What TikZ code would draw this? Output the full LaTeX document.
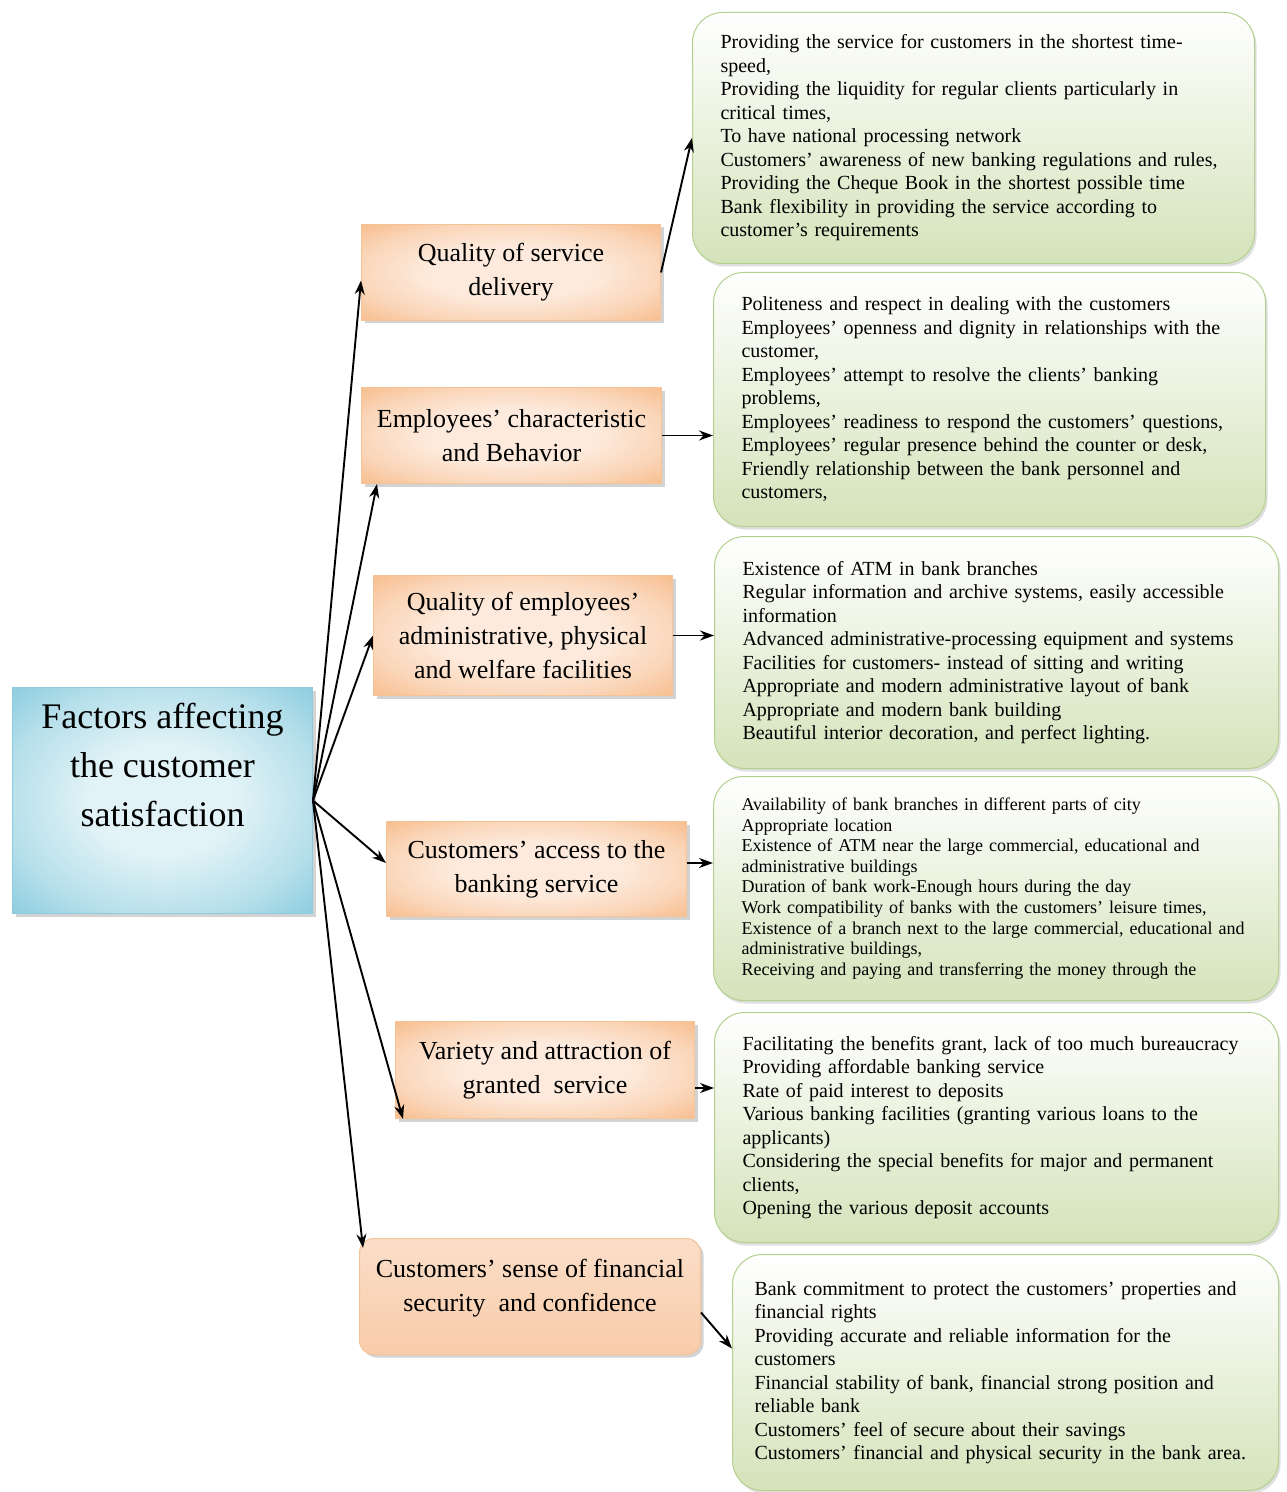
\documentclass[tikz,border=0pt]{standalone}
\usepackage{fontspec}
\setmainfont{Liberation Serif}
\usetikzlibrary{shadows,arrows.meta}

\definecolor{blueedge}{RGB}{138,204,222}
\definecolor{bluelight}{RGB}{226,243,247}
\definecolor{blueline}{RGB}{140,204,222}
\definecolor{orangeedge}{RGB}{247,188,140}
\definecolor{orangelight}{RGB}{253,234,220}
\definecolor{orangeline}{RGB}{245,196,150}
\definecolor{orangetop}{RGB}{251,222,200}
\definecolor{orangebottom}{RGB}{248,204,170}
\definecolor{greenbottom}{RGB}{212,227,186}
\definecolor{greenline}{RGB}{180,208,142}

\pgfdeclareradialshading{orangeglow}{\pgfpoint{0bp}{0bp}}{color(0bp)=(orangelight); color(14bp)=(orangelight); color(26bp)=(orangelight!55!orangeedge); color(36bp)=(orangeedge); color(50bp)=(orangeedge)}
\pgfdeclareradialshading{blueglow}{\pgfpoint{0bp}{0bp}}{color(0bp)=(bluelight); color(12bp)=(bluelight); color(26bp)=(bluelight!50!blueedge); color(36bp)=(blueedge); color(50bp)=(blueedge)}

\begin{document}
\begin{tikzpicture}[>={Stealth[length=7pt,width=5pt]}, line width=0.95pt, x=0.5pt, y=-0.5pt,
  mainbox/.style={draw=blueline, line width=0.5pt, shading=blueglow, inner sep=0pt,
    anchor=north west, font=\fontsize{18}{24.5}\selectfont,
    drop shadow={shadow xshift=1.5pt, shadow yshift=-1.5pt, opacity=0.35}},
  factor/.style={draw=orangeline, line width=0.5pt, shading=orangeglow, align=center,
    anchor=north west, font=\fontsize{13}{17}\selectfont,
    drop shadow={shadow xshift=1.5pt, shadow yshift=-1.5pt, opacity=0.35}},
  detail/.style={draw=greenline, line width=0.5pt, rounded corners=15pt, top color=white,
    bottom color=greenbottom, align=left, anchor=north west, inner xsep=14pt,
    font=\fontsize{10}{11.75}\selectfont,
    drop shadow={shadow xshift=1pt, shadow yshift=-1.5pt, opacity=0.25}}]

\useasboundingbox (0,0) rectangle (1286,1492);

% main node
\node[mainbox] (main) at (12,687) {\parbox[c][113pt][t]{150pt}{\centering\vspace*{8pt}Factors affecting\\the customer\\satisfaction}};

% factor nodes
\node[factor, minimum width=149.5pt, minimum height=48pt] (q1) at (361,224) {Quality of service\\delivery};
\node[factor, minimum width=150pt, minimum height=48pt] (q2) at (361,387) {Employees' characteristic\\and Behavior};
\node[factor, minimum width=149.5pt, minimum height=60pt] (q3) at (373,575) {Quality of employees'\\administrative, physical\\and welfare facilities};
\node[factor, minimum width=150pt, minimum height=47.5pt] (q4) at (386,821) {Customers' access to the\\banking service};
\node[factor, minimum width=149.5pt, minimum height=48.5pt] (q5) at (395,1021) {Variety and attraction of\\granted\ \ service};
\node[factor, shading=axis, top color=orangetop, middle color=orangelight!60!white,
  bottom color=orangebottom, rounded corners=7pt, minimum width=170.5pt,
  minimum height=58pt] (q6) at (359,1238) {Customers' sense of financial\\security\ \ and confidence\\[-6pt]};

% detail nodes
\node[detail, minimum width=281pt, minimum height=125.5pt, text width=253pt] (g1) at (692,12)
  {Providing the service for customers in the shortest time-\\speed,\\Providing the liquidity for regular clients particularly in\\critical times,\\To have national processing network\\Customers' awareness of new banking regulations and rules,\\Providing the Cheque Book in the shortest possible time\\Bank flexibility in providing the service according to\\customer's requirements};
\node[detail, minimum width=276pt, minimum height=127pt, text width=248pt] (g2) at (713,272)
  {Politeness and respect in dealing with the customers\\Employees' openness and dignity in relationships with the\\customer,\\Employees' attempt to resolve the clients' banking\\problems,\\Employees' readiness to respond the customers' questions,\\Employees' regular presence behind the counter or desk,\\Friendly relationship between the bank personnel and\\customers,};
\node[detail, minimum width=282pt, minimum height=116pt, text width=254pt] (g3) at (714,536)
  {Existence of ATM in bank branches\\Regular information and archive systems, easily accessible\\information\\Advanced administrative-processing equipment and systems\\Facilities for customers- instead of sitting and writing\\Appropriate and modern administrative layout of bank\\Appropriate and modern bank building\\Beautiful interior decoration, and perfect lighting.};
\node[detail, minimum width=282.5pt, minimum height=112pt, text width=254.5pt,
  font=\fontsize{9}{10.3}\selectfont] (g4) at (713,776)
  {Availability of bank branches in different parts of city\\Appropriate location\\Existence of ATM near the large commercial, educational and\\administrative buildings\\Duration of bank work-Enough hours during the day\\Work compatibility of banks with the customers' leisure times,\\Existence of a branch next to the large commercial, educational and\\administrative buildings,\\Receiving and paying and transferring the money through the};
\node[detail, minimum width=282pt, minimum height=115pt, text width=254pt] (g5) at (714,1012)
  {Facilitating the benefits grant, lack of too much bureaucracy\\Providing affordable banking service\\Rate of paid interest to deposits\\Various banking facilities (granting various loans to the\\applicants)\\Considering the special benefits for major and permanent\\clients,\\Opening the various deposit accounts};
\node[detail, minimum width=273pt, minimum height=118pt, text width=251pt, inner xsep=11pt] (g6) at (732,1254)
  {Bank commitment to protect the customers' properties and\\financial rights\\Providing accurate and reliable information for the\\customers\\Financial stability of bank, financial strong position and\\reliable bank\\Customers' feel of secure about their savings\\Customers' financial and physical security in the bank area.};

% main -> factors
\draw[->] (main.east) -- ([yshift=-4pt]q1.west);
\draw[->] (main.east) -- ([xshift=8pt]q2.south west);
\draw[->] (main.east) -- (q3.west);
\draw[->] (main.east) -- ([yshift=3pt]q4.west);
\draw[->] (main.east) -- ([xshift=4pt]q5.south west);
\draw[->] (main.east) -- ([xshift=2pt,yshift=-5pt]q6.north west);

% factors -> details
\draw[->] (q1.east) -- (g1.west);
\draw[->] (q2.east) -- (q2.east -| g2.west);
\draw[->] (q3.east) -- (q3.east -| g3.west);
\draw[->] ([yshift=3pt]q4.east) -- ([yshift=3pt]q4.east -| g4.west);
\draw[->] ([yshift=-9pt]q5.east) -- ([yshift=-9pt]q5.east -| g5.west);
\draw[->] ([yshift=-8pt]q6.east) -- ([yshift=12pt]g6.west);

\end{tikzpicture}
\end{document}
